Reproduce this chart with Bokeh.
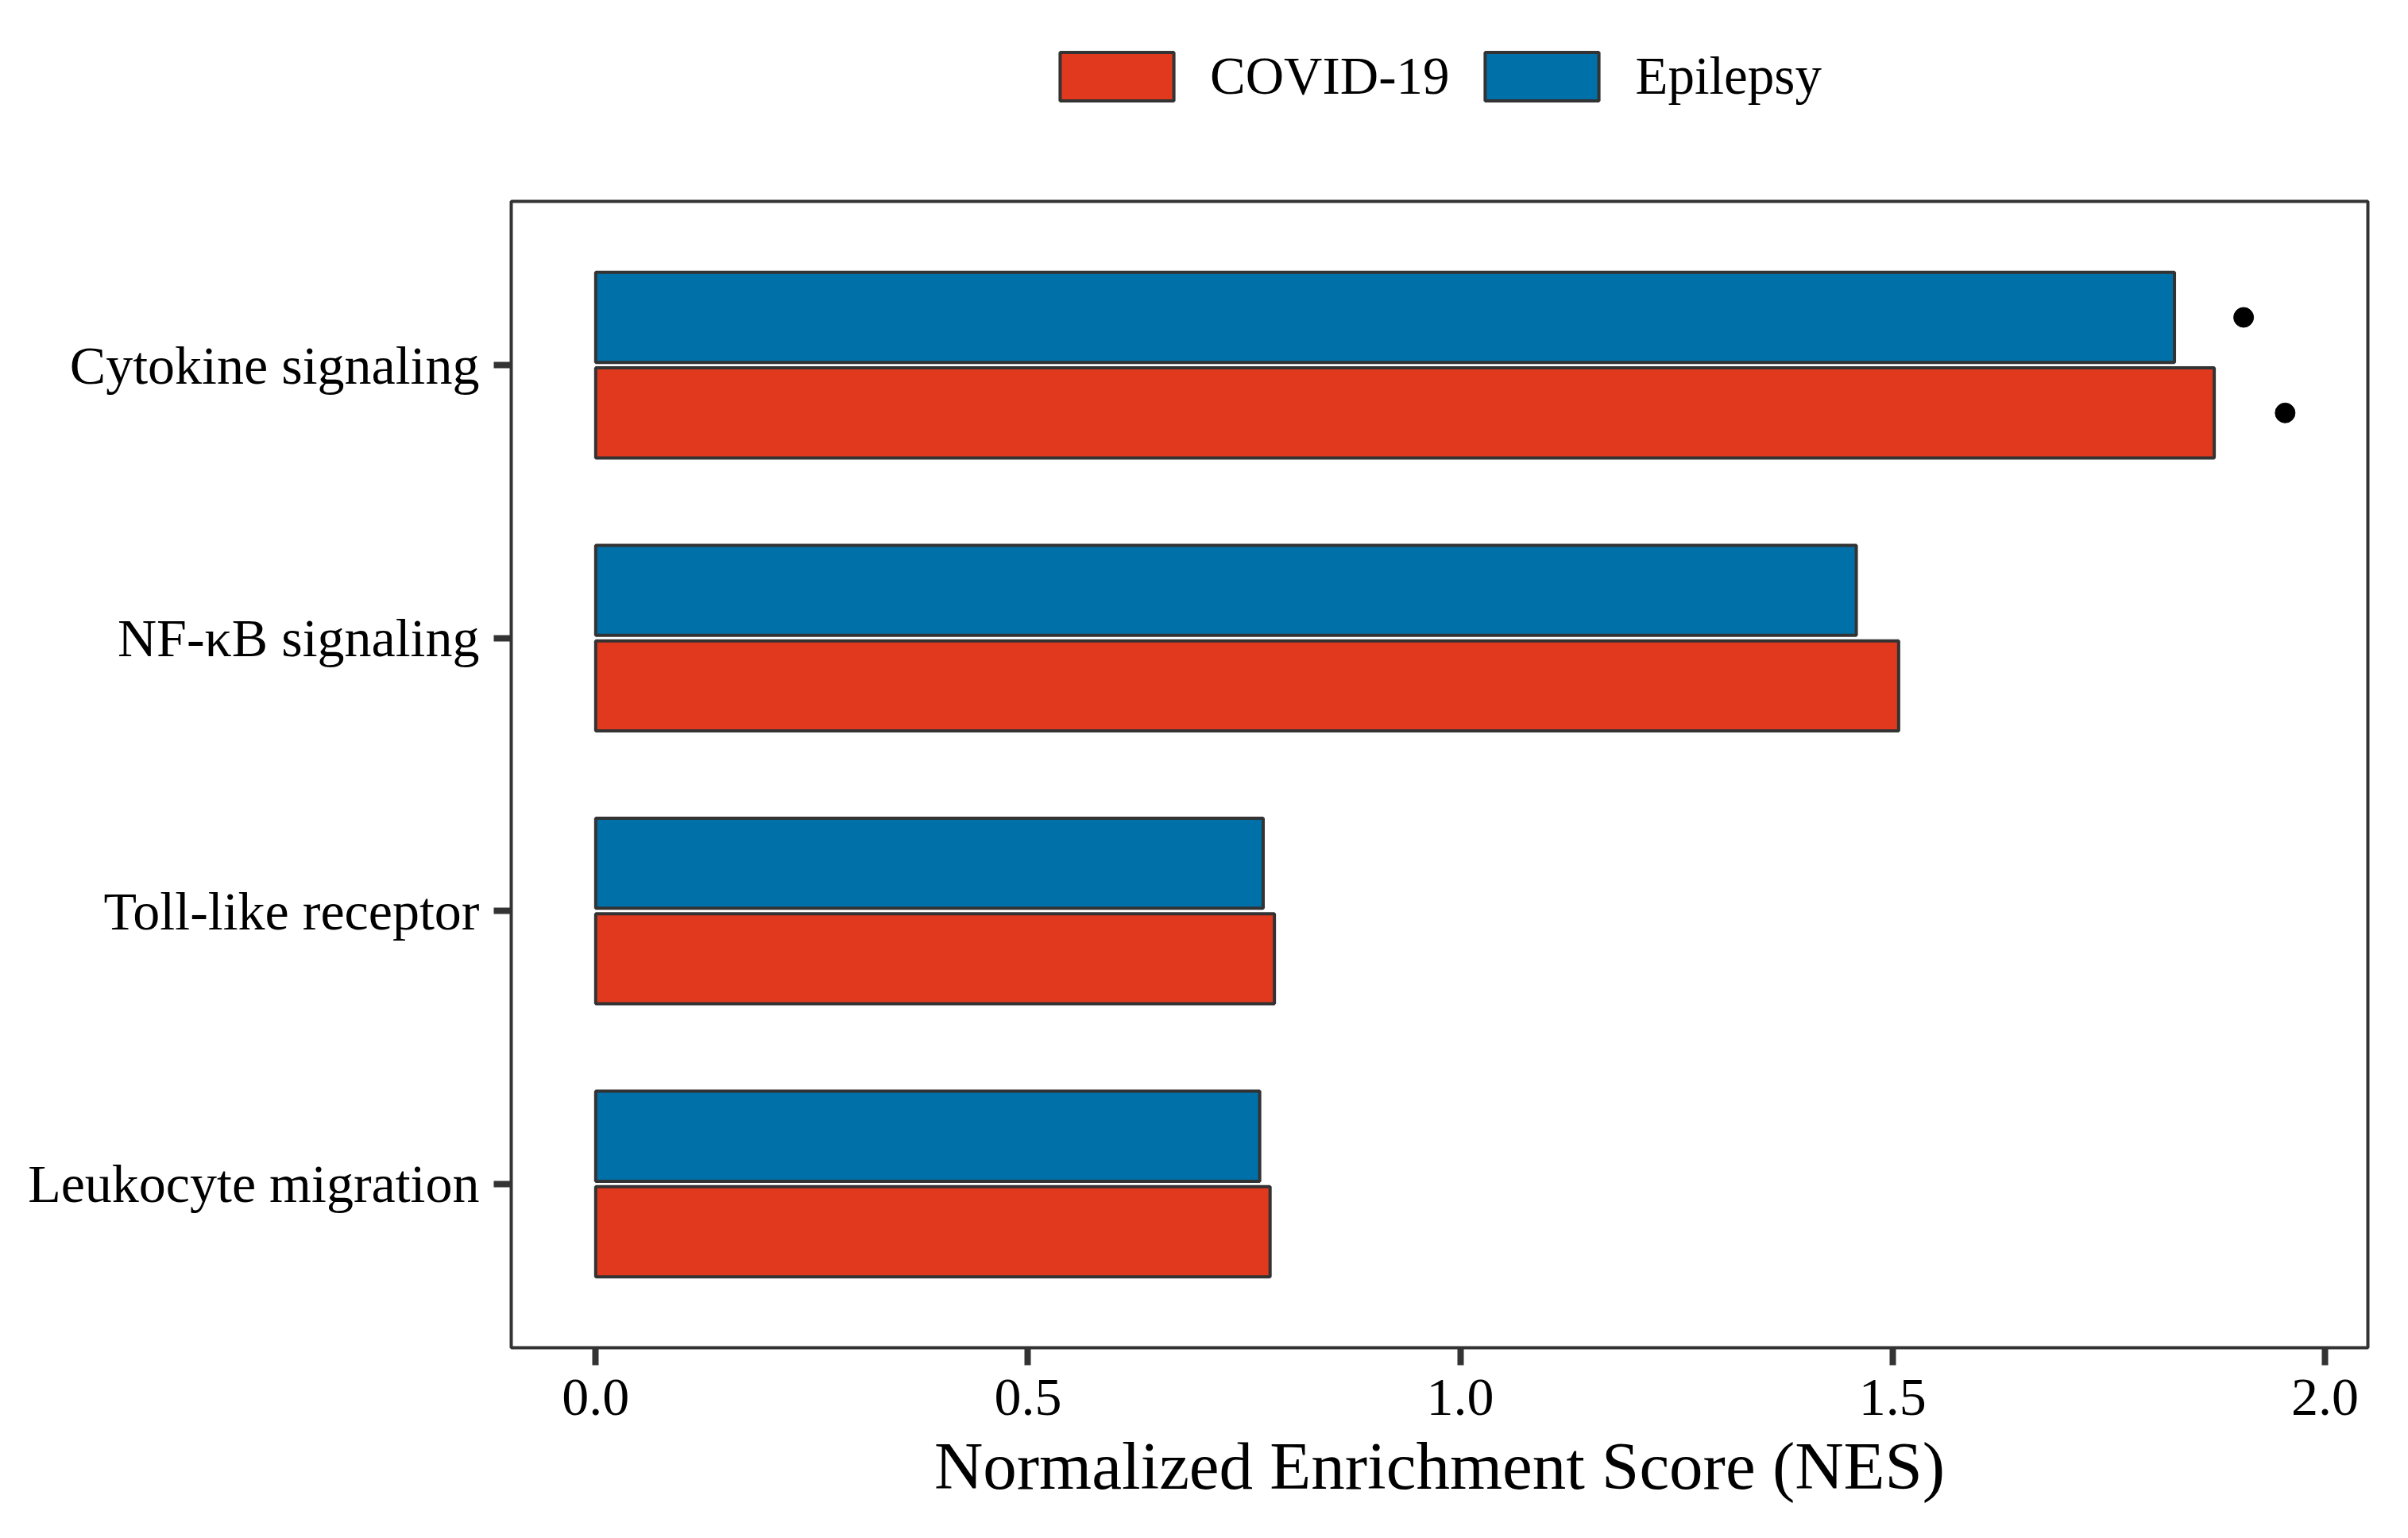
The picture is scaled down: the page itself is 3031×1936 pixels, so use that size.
from bokeh.plotting import figure
from bokeh.layouts import column
from bokeh.models import ColumnDataSource, FactorRange, Legend, LegendItem
from bokeh.transform import dodge
from bokeh.embed import file_html
from bokeh.resources import INLINE

# ---- data (bottom to top) ----
categories = ["Leukocyte migration", "Toll-like receptor", "NF-κB signaling", "Cytokine signaling"]
covid_nes = [0.780, 0.785, 1.507, 1.872]
epilepsy_nes = [0.768, 0.772, 1.458, 1.826]

# significance markers (Cytokine signaling only)
sig_epi_category = ["Cytokine signaling"]
sig_epi_x = [1.906]
sig_covid_category = ["Cytokine signaling"]
sig_covid_x = [1.954]

x_ticks = [0.0, 0.5, 1.0, 1.5, 2.0]
groups = ["COVID-19", "Epilepsy"]

RED = "#E1391D"
BLUE = "#0070A9"
EDGE = "#333333"
FONT = "Liberation Serif"

src = ColumnDataSource(dict(cat=categories, covid=covid_nes, epi=epilepsy_nes))

W = 3023
LEG_H = 243
H = 1928 - LEG_H
TOP = 10
FL, FR = 643, 2980
FB = 1696 - LEG_H      # frame bottom in main-figure px

# ---------- legend strip (legend only; its bar renderers are hidden) ----------
lg = figure(width=W, height=LEG_H, output_backend="svg", toolbar_location=None,
            y_range=FactorRange(factors=categories), x_range=(0, 2), min_border=0)
lg.axis.visible = False
lg.grid.visible = False
lg.outline_line_color = None
lg_cov = lg.hbar(y="cat", right="covid", height=0.33, source=src,
                 fill_color=RED, line_color=EDGE, line_width=4, visible=False)
lg_epi = lg.hbar(y="cat", right="epi", height=0.33, source=src,
                 fill_color=BLUE, line_color=EDGE, line_width=4, visible=False)
GW, GH = 179, 76
legend = Legend(items=[LegendItem(label=groups[0], renderers=[lg_cov]),
                       LegendItem(label=groups[1], renderers=[lg_epi])],
                orientation="horizontal", click_policy="none",
                location=(1316 - FL, LEG_H - 134),
                glyph_width=GW, glyph_height=GH, label_standoff=28, spacing=27,
                label_text_font=FONT, label_text_font_size="67px",
                label_text_color="black", border_line_color=None,
                background_fill_alpha=0, inactive_fill_alpha=0,
                padding=0, margin=0, label_height=GH)
lg.add_layout(legend, "center")

# ---------- main chart ----------
p = figure(width=W, height=H, output_backend="svg", toolbar_location=None,
           y_range=FactorRange(factors=categories, range_padding=0.1, range_padding_units="absolute"),
           x_range=(-0.0977, 2.0497),
           min_border_left=FL, min_border_right=W - FR,
           min_border_top=TOP, min_border_bottom=H - FB)

p.hbar(y=dodge("cat", 0.175, range=p.y_range), right="epi", left=0, height=0.33,
       source=src, fill_color=BLUE, line_color=EDGE, line_width=4)
p.hbar(y=dodge("cat", -0.175, range=p.y_range), right="covid", left=0, height=0.33,
       source=src, fill_color=RED, line_color=EDGE, line_width=4)

p.scatter(x="x", y=dodge("cat", 0.175, range=p.y_range),
          source=ColumnDataSource(dict(cat=sig_epi_category, x=sig_epi_x)), size=25, color="black")
p.scatter(x="x", y=dodge("cat", -0.175, range=p.y_range),
          source=ColumnDataSource(dict(cat=sig_covid_category, x=sig_covid_x)), size=25, color="black")

p.outline_line_color = EDGE
p.outline_line_width = 4
p.xgrid.visible = False
p.ygrid.visible = False
p.background_fill_color = "white"
p.border_fill_color = "white"

for ax in (p.xaxis[0], p.yaxis[0]):
    ax.axis_line_color = None
    ax.major_tick_line_color = EDGE
    ax.major_tick_line_width = 8
    ax.major_tick_out = 22
    ax.major_tick_in = 0
    ax.minor_tick_line_color = None
    ax.major_label_text_font = FONT
    ax.major_label_text_font_size = "68px"
    ax.major_label_text_color = "black"

p.xaxis.ticker = x_ticks
p.xaxis.major_label_overrides = {t: f"{t:.1f}" for t in x_ticks}
p.xaxis.major_label_standoff = 18
p.yaxis.major_label_standoff = 18
p.xaxis.axis_label = "Normalized Enrichment Score (NES)"
p.xaxis.axis_label_text_font = FONT
p.xaxis.axis_label_text_font_size = "85px"
p.xaxis.axis_label_text_font_style = "normal"
p.xaxis.axis_label_text_color = "black"
p.xaxis.axis_label_standoff = 14

layout = column(lg, p, spacing=0)
open("out.html", "w").write(file_html(layout, INLINE))
